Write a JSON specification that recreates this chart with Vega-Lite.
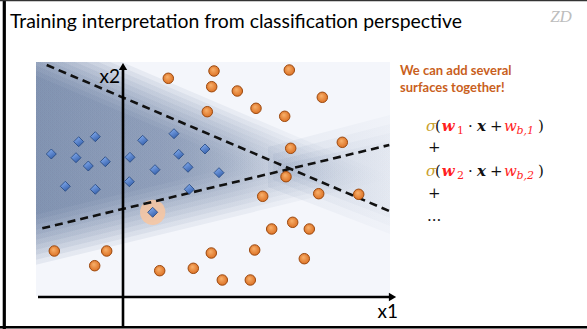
{
  "$schema": "https://vega.github.io/schema/vega-lite/v6.json",
  "width": 587,
  "height": 329,
  "padding": 0,
  "autosize": {"type": "none"},
  "background": "#ffffff",
  "config": {"view": {"stroke": null}},
  "encoding": {
    "x": {"field": "x", "type": "quantitative", "scale": {"domain": [-12.3, 46.4], "nice": false, "zero": false}, "axis": null},
    "y": {"field": "y", "type": "quantitative", "scale": {"domain": [-3.2, 29.7], "nice": false, "zero": false}, "axis": null, "stack": null}
  },
  "layer": [
    {
      "data": {"values": [{"x": -8.7, "y": 23.5, "x2": 26.7, "y2": 0.1}]},
      "mark": {"type": "rect", "fill": "#f4f6fb"},
      "encoding": {"x2": {"field": "x2"}, "y2": {"field": "y2"}}
    },
    {
      "data": {"values": [
        {"g": "a0", "x": -8.7, "y": 22.16, "y2": 8.22},
        {"g": "a0", "x": 12.13, "y": 13.28, "y2": 13.28},
        {"g": "a", "x": -8.7, "y": 22.66, "y2": 7.72},
        {"g": "a", "x": 13.62, "y": 13.15, "y2": 13.15},
        {"g": "a1", "x": -8.7, "y": 23.16, "y2": 7.22},
        {"g": "a1", "x": 15.12, "y": 13.01, "y2": 13.01},
        {"g": "b", "x": -8.7, "y": 23.5, "y2": 6.72},
        {"g": "b", "x": -8.33, "y": 23.5, "y2": 6.81},
        {"g": "b", "x": 16.62, "y": 12.87, "y2": 12.87},
        {"g": "b1", "x": -8.7, "y": 23.5, "y2": 6.22},
        {"g": "b1", "x": -7.16, "y": 23.5, "y2": 6.59},
        {"g": "b1", "x": 18.11, "y": 12.74, "y2": 12.74},
        {"g": "c", "x": -8.7, "y": 23.5, "y2": 5.72},
        {"g": "c", "x": -5.99, "y": 23.5, "y2": 6.38},
        {"g": "c", "x": 19.61, "y": 12.6, "y2": 12.6},
        {"g": "c1", "x": -8.7, "y": 23.5, "y2": 5.22},
        {"g": "c1", "x": -4.81, "y": 23.5, "y2": 6.16},
        {"g": "c1", "x": 21.1, "y": 12.46, "y2": 12.46},
        {"g": "d", "x": -8.7, "y": 23.5, "y2": 4.72},
        {"g": "d", "x": -3.64, "y": 23.5, "y2": 5.95},
        {"g": "d", "x": 22.6, "y": 12.32, "y2": 12.32},
        {"g": "d1", "x": -8.7, "y": 23.5, "y2": 4.22},
        {"g": "d1", "x": -2.46, "y": 23.5, "y2": 5.73},
        {"g": "d1", "x": 24.09, "y": 12.19, "y2": 12.19},
        {"g": "e0", "x": -8.7, "y": 23.5, "y2": 3.72},
        {"g": "e0", "x": -1.29, "y": 23.5, "y2": 5.52},
        {"g": "e0", "x": 25.58, "y": 12.05, "y2": 12.05},
        {"g": "e", "x": -8.7, "y": 23.5, "y2": 3.22},
        {"g": "e", "x": -0.12, "y": 23.5, "y2": 5.3},
        {"g": "e", "x": 26.7, "y": 12.08, "y2": 11.82}
      ]},
      "mark": {
        "type": "area",
        "opacity": 0.09,
        "fill": {"gradient": "linear", "x1": 0, "y1": 0, "x2": 1, "y2": 0,
          "stops": [{"offset": 0, "color": "rgba(66,92,136,1)"}, {"offset": 0.6, "color": "rgba(66,92,136,0.75)"}, {"offset": 1, "color": "rgba(66,92,136,0)"}]}
      },
      "encoding": {"y2": {"field": "y2"}, "detail": {"field": "g"}}
    },
    {
      "data": {"values": [
        {"g": "r0", "x": 16.0, "y": 13.3, "y2": 12.5},
        {"g": "r0", "x": 26.7, "y": 15.6, "y2": 8.7},
        {"g": "r1", "x": 15.5, "y": 13.7, "y2": 12.2},
        {"g": "r1", "x": 26.7, "y": 16.4, "y2": 7.9},
        {"g": "r2", "x": 15.0, "y": 14.3, "y2": 11.7},
        {"g": "r2", "x": 26.7, "y": 17.3, "y2": 7.1},
        {"g": "r3", "x": 14.5, "y": 15.0, "y2": 11.0},
        {"g": "r3", "x": 26.7, "y": 18.2, "y2": 6.3}
      ]},
      "mark": {
        "type": "area",
        "opacity": 0.09,
        "fill": {"gradient": "linear", "x1": 0, "y1": 0, "x2": 1, "y2": 0,
          "stops": [{"offset": 0, "color": "rgba(90,115,155,0.9)"}, {"offset": 1, "color": "rgba(90,115,155,0.3)"}]}
      },
      "encoding": {"y2": {"field": "y2"}, "detail": {"field": "g"}}
    },
    {
      "data": {"values": [{"x": 2.97, "y": 8.47}]},
      "mark": {"type": "point", "shape": "circle", "filled": true, "size": 640, "color": "#f8c6a0", "opacity": 0.85}
    },
    {
      "data": {"values": [
        {"x": -7.63, "y": 23.2, "x2": 26.63, "y2": 8.6},
        {"x": -8.07, "y": 6.87, "x2": 26.63, "y2": 15.2}
      ]},
      "mark": {"type": "rule", "color": "#111111", "strokeWidth": 2.6, "strokeDash": [8, 5]},
      "encoding": {"x2": {"field": "x2"}, "y2": {"field": "y2"}}
    },
    {
      "data": {"values": [
        {"x": -8.5, "y": 0, "x2": 26.9, "y2": 0},
        {"x": 0, "y": -2.9, "x2": 0, "y2": 23.0}
      ]},
      "mark": {"type": "rule", "color": "#000000", "strokeWidth": 2.6},
      "encoding": {"x2": {"field": "x2"}, "y2": {"field": "y2"}}
    },
    {
      "data": {"values": [{"x": 26.95, "y": 0}]},
      "mark": {"type": "point", "shape": "triangle-right", "filled": true, "size": 70, "color": "#000000", "opacity": 1}
    },
    {
      "data": {"values": [{"x": 0, "y": 23.05}]},
      "mark": {"type": "point", "shape": "triangle-up", "filled": true, "size": 70, "color": "#000000", "opacity": 1}
    },
    {
      "data": {"values": [
        {"x": 4.53, "y": 21.87}, {"x": 9.1, "y": 22.6}, {"x": 16.63, "y": 22.7}, {"x": 8.87, "y": 21.03},
        {"x": 11.43, "y": 20.6}, {"x": 19.93, "y": 19.97}, {"x": 13.3, "y": 18.87}, {"x": 8.43, "y": 18.53},
        {"x": 16.17, "y": 18.07}, {"x": 21.93, "y": 15.47}, {"x": 16.77, "y": 14.87}, {"x": 16.3, "y": 12.03},
        {"x": 19.57, "y": 10.33}, {"x": 23.57, "y": 10.27}, {"x": 13.97, "y": 10.07}, {"x": 16.97, "y": 7.47},
        {"x": 14.87, "y": 6.8}, {"x": 18.63, "y": 6.8}, {"x": -6.87, "y": 4.6}, {"x": -1.63, "y": 4.6},
        {"x": -2.83, "y": 3.13}, {"x": 8.83, "y": 4.4}, {"x": 13.17, "y": 4.7}, {"x": 18.13, "y": 3.83},
        {"x": 3.67, "y": 2.63}, {"x": 7.03, "y": 2.87}, {"x": 9.93, "y": 1.7}, {"x": 12.73, "y": 1.7}
      ]},
      "mark": {
        "type": "point", "shape": "circle", "filled": true, "size": 110, "opacity": 1,
        "fill": {"gradient": "radial", "x1": 0.4, "y1": 0.35, "r1": 0, "x2": 0.5, "y2": 0.5, "r2": 0.6,
          "stops": [{"offset": 0, "color": "#f9b36e"}, {"offset": 1, "color": "#d8681a"}]},
        "stroke": "#9c4a10", "strokeWidth": 1
      }
    },
    {
      "data": {"values": [
        {"x": -7.17, "y": 14.3}, {"x": -4.43, "y": 15.53}, {"x": -2.77, "y": 16.03}, {"x": -4.7, "y": 13.93},
        {"x": -3.47, "y": 13.1}, {"x": -1.77, "y": 13.53}, {"x": -5.77, "y": 11.07}, {"x": -2.77, "y": 10.77},
        {"x": 0.7, "y": 13.97}, {"x": 1.97, "y": 15.67}, {"x": 0.63, "y": 11.53}, {"x": 3.2, "y": 12.73},
        {"x": 5.1, "y": 16.33}, {"x": 5.57, "y": 14.27}, {"x": 8.2, "y": 14.8}, {"x": 6.5, "y": 12.97},
        {"x": 9.6, "y": 12.43}, {"x": 6.63, "y": 10.77}, {"x": 2.97, "y": 8.47}
      ]},
      "mark": {
        "type": "point", "shape": "diamond", "filled": true, "size": 100, "opacity": 1,
        "fill": {"gradient": "linear", "x1": 0.2, "y1": 0, "x2": 0.8, "y2": 1,
          "stops": [{"offset": 0, "color": "#86aef0"}, {"offset": 1, "color": "#2f5aa6"}]},
        "stroke": "#23467f", "strokeWidth": 0.8
      }
    },
    {
      "data": {"values": [{"x": -11.3, "y": 26.87, "t": "Training interpretation from classification perspective"}]},
      "mark": {"type": "text", "align": "left", "baseline": "alphabetic", "font": "Lato", "fontSize": 19.4, "color": "#000000"},
      "encoding": {"text": {"field": "t"}}
    },
    {
      "data": {"values": [{"x": 43.8, "y": 27.5, "t": "ZD"}]},
      "mark": {"type": "text", "align": "center", "baseline": "alphabetic", "font": "Liberation Serif", "fontStyle": "italic", "fontSize": 17, "color": "#bdbdbd"},
      "encoding": {"text": {"field": "t"}}
    },
    {
      "data": {"values": [{"x": -0.3, "y": 21.37, "t": "x2"}, {"x": 27.5, "y": -2.1, "t": "x1"}]},
      "mark": {"type": "text", "align": "right", "baseline": "alphabetic", "font": "Lato", "fontSize": 19, "color": "#000000"},
      "encoding": {"text": {"field": "t"}}
    },
    {
      "data": {"values": [{"x": 27.7, "y": 22.2, "t": "We can add several"}, {"x": 27.7, "y": 20.53, "t": "surfaces together!"}]},
      "mark": {"type": "text", "align": "left", "baseline": "alphabetic", "font": "Lato", "fontWeight": "bold", "fontSize": 13, "color": "#c95f1d"},
      "encoding": {"text": {"field": "t"}}
    },
    {
      "data": {"values": [{"x": 30.3, "y": 16.6, "t": "σ"}, {"x": 30.3, "y": 12.1, "t": "σ"}]},
      "mark": {"type": "text", "align": "left", "baseline": "alphabetic", "font": "DejaVu Serif", "fontStyle": "italic", "fontSize": 15, "color": "#c9a02e"},
      "encoding": {"text": {"field": "t"}}
    },
    {
      "data": {"values": [
        {"x": 31.2, "y": 16.6, "t": "("}, {"x": 34.5, "y": 16.6, "t": "·"}, {"x": 36.7, "y": 16.6, "t": "+"}, {"x": 41.5, "y": 16.6, "t": ")"},
        {"x": 31.2, "y": 12.1, "t": "("}, {"x": 34.5, "y": 12.1, "t": "·"}, {"x": 36.7, "y": 12.1, "t": "+"}, {"x": 41.5, "y": 12.1, "t": ")"},
        {"x": 30.5, "y": 14.5, "t": "+"}, {"x": 30.5, "y": 9.9, "t": "+"}, {"x": 30.4, "y": 7.6, "t": "..."}
      ]},
      "mark": {"type": "text", "align": "left", "baseline": "alphabetic", "font": "DejaVu Serif", "fontSize": 15, "color": "#111111"},
      "encoding": {"text": {"field": "t"}}
    },
    {
      "data": {"values": [{"x": 31.87, "y": 16.6, "t": "w"}, {"x": 31.87, "y": 12.1, "t": "w"}]},
      "mark": {"type": "text", "align": "left", "baseline": "alphabetic", "font": "DejaVu Serif", "fontStyle": "italic", "fontWeight": "bold", "fontSize": 15, "color": "#ff1f1f"},
      "encoding": {"text": {"field": "t"}}
    },
    {
      "data": {"values": [{"x": 33.4, "y": 16.3, "t": "1"}, {"x": 33.4, "y": 11.8, "t": "2"}]},
      "mark": {"type": "text", "align": "left", "baseline": "alphabetic", "font": "DejaVu Serif", "fontSize": 11, "color": "#ff1f1f"},
      "encoding": {"text": {"field": "t"}}
    },
    {
      "data": {"values": [{"x": 35.4, "y": 16.6, "t": "x"}, {"x": 35.4, "y": 12.1, "t": "x"}]},
      "mark": {"type": "text", "align": "left", "baseline": "alphabetic", "font": "DejaVu Serif", "fontStyle": "italic", "fontWeight": "bold", "fontSize": 15, "color": "#111111"},
      "encoding": {"text": {"field": "t"}}
    },
    {
      "data": {"values": [{"x": 38.1, "y": 16.6, "t": "w"}, {"x": 38.1, "y": 12.1, "t": "w"}]},
      "mark": {"type": "text", "align": "left", "baseline": "alphabetic", "font": "DejaVu Serif", "fontStyle": "italic", "fontSize": 15, "color": "#ff1f1f"},
      "encoding": {"text": {"field": "t"}}
    },
    {
      "data": {"values": [{"x": 39.35, "y": 16.3, "t": "b,1"}, {"x": 39.35, "y": 11.8, "t": "b,2"}]},
      "mark": {"type": "text", "align": "left", "baseline": "alphabetic", "font": "DejaVu Serif", "fontStyle": "italic", "fontSize": 11, "color": "#ff1f1f"},
      "encoding": {"text": {"field": "t"}}
    },
    {
      "data": {"values": [{"x": -11.87, "y": 29.7, "x2": -11.87, "y2": -3.2}]},
      "mark": {"type": "rule", "color": "#000000", "strokeWidth": 3.2},
      "encoding": {"x2": {"field": "x2"}, "y2": {"field": "y2"}}
    },
    {
      "data": {"values": [{"x": -12.3, "y": -3.02, "x2": 46.4, "y2": -3.02}]},
      "mark": {"type": "rule", "color": "#000000", "strokeWidth": 2.5},
      "encoding": {"x2": {"field": "x2"}, "y2": {"field": "y2"}}
    },
    {
      "data": {"values": [{"x": -12.3, "y": 29.64, "x2": 46.4, "y2": 29.64}]},
      "mark": {"type": "rule", "color": "#333333", "strokeWidth": 1.5},
      "encoding": {"x2": {"field": "x2"}, "y2": {"field": "y2"}}
    }
  ]
}
